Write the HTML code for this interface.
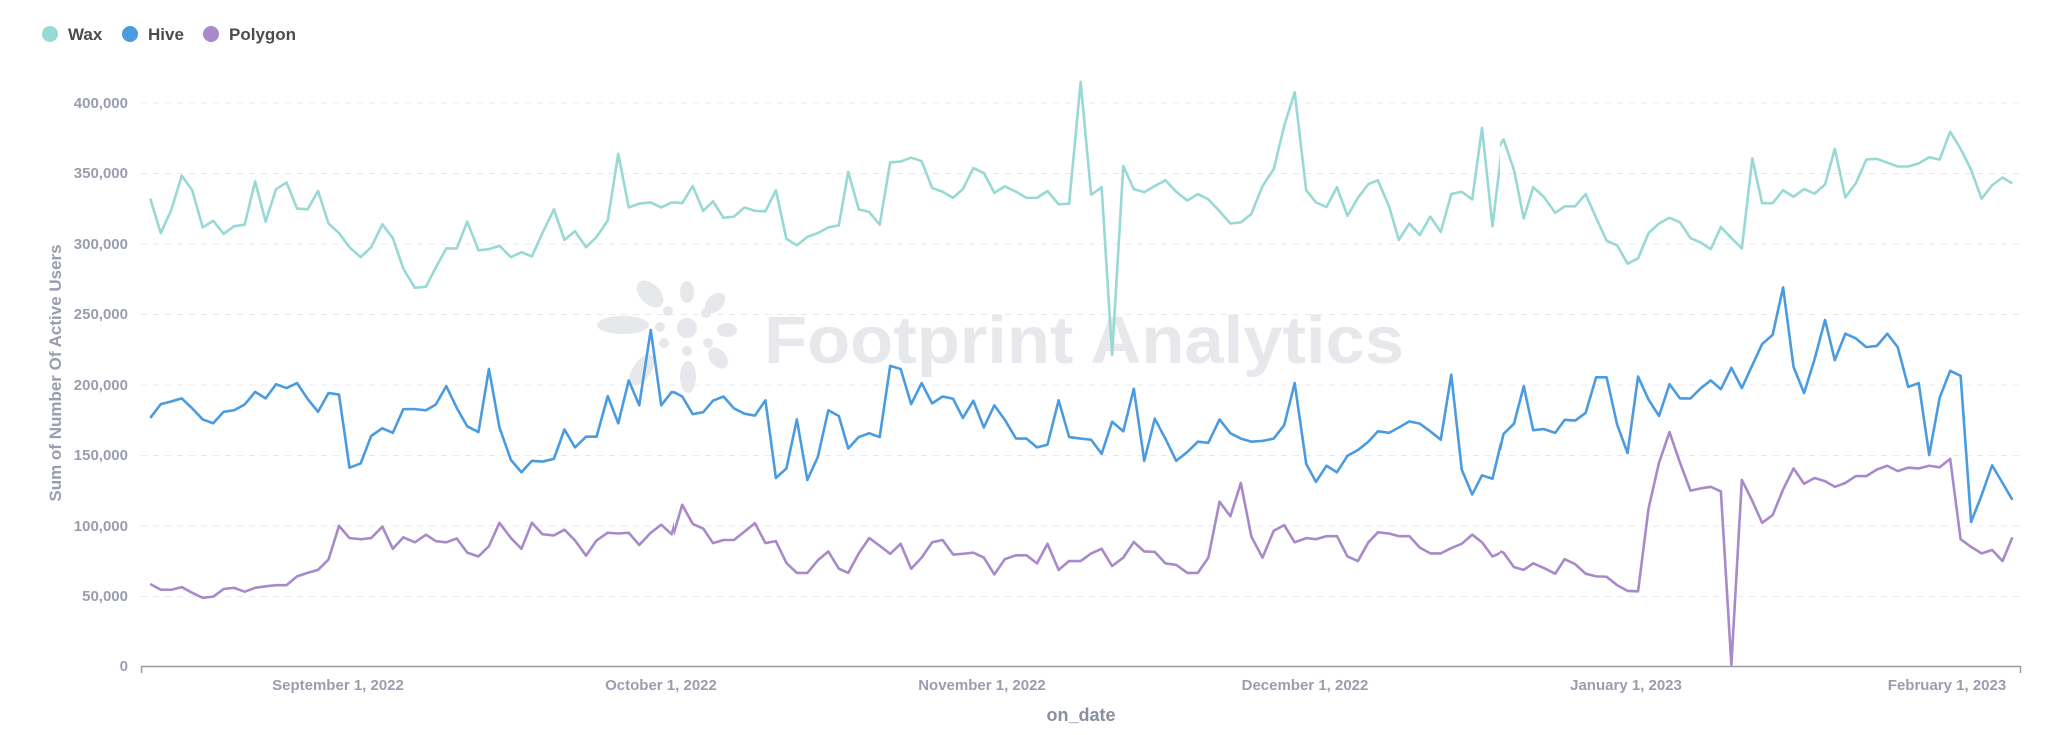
<!DOCTYPE html>
<html><head><meta charset="utf-8"><style>
html,body{margin:0;padding:0;background:#fff;}
svg{display:block;font-family:"Liberation Sans",sans-serif;}
</style></head><body>
<svg width="2048" height="735" viewBox="0 0 2048 735" xmlns="http://www.w3.org/2000/svg">
<defs>
<clipPath id="c5"><rect x="0" y="0" width="674" height="735"/></clipPath>
<clipPath id="c6"><rect x="674" y="0" width="486" height="735"/></clipPath>
<clipPath id="c7"><rect x="1160" y="0" width="340" height="735"/></clipPath>
<clipPath id="c4"><rect x="1500" y="0" width="548" height="735"/></clipPath>
</defs>
<!-- legend -->
<circle cx="50" cy="34" r="8" fill="#98d9d5"/>
<text x="68" y="40" font-size="17" font-weight="bold" fill="#4c4c4c">Wax</text>
<circle cx="130" cy="34" r="8" fill="#4a9be0"/>
<text x="148" y="40" font-size="17" font-weight="bold" fill="#4c4c4c">Hive</text>
<circle cx="211" cy="34" r="8" fill="#a889c9"/>
<text x="229" y="40" font-size="17" font-weight="bold" fill="#4c4c4c">Polygon</text>
<!-- watermark -->
<g fill="#e7e8eb">
<circle cx="687" cy="328" r="10"/>
<ellipse cx="687" cy="292" rx="7" ry="11"/>
<ellipse cx="623" cy="325" rx="26" ry="9"/>
<ellipse cx="650" cy="294" rx="10" ry="16" transform="rotate(-45 650 294)"/>
<ellipse cx="715" cy="303" rx="8" ry="12" transform="rotate(45 715 303)"/>
<ellipse cx="727" cy="330" rx="10" ry="7"/>
<ellipse cx="718" cy="358" rx="8" ry="12" transform="rotate(-40 718 358)"/>
<ellipse cx="688" cy="377" rx="8" ry="16"/>
<ellipse cx="642" cy="370" rx="9" ry="18" transform="rotate(35 642 370)"/>
<circle cx="668" cy="311" r="5"/><circle cx="706" cy="313" r="5"/>
<circle cx="664" cy="343" r="5"/><circle cx="708" cy="343" r="5"/>
<circle cx="687" cy="351" r="5"/><circle cx="660" cy="327" r="5"/>
</g>
<text x="764" y="363" font-size="67" font-weight="bold" fill="#e7e8eb" textLength="640" lengthAdjust="spacingAndGlyphs">Footprint Analytics</text>
<!-- grid -->
<g stroke="#e8e9ee" stroke-width="1" stroke-dasharray="6,6">
<line x1="141" x2="2021" y1="103" y2="103"/><line x1="141" x2="2021" y1="173.5" y2="173.5"/>
<line x1="141" x2="2021" y1="244" y2="244"/><line x1="141" x2="2021" y1="314.5" y2="314.5"/>
<line x1="141" x2="2021" y1="385" y2="385"/><line x1="141" x2="2021" y1="455.5" y2="455.5"/>
<line x1="141" x2="2021" y1="526" y2="526"/><line x1="141" x2="2021" y1="596.5" y2="596.5"/>
</g>
<line x1="141" x2="2021" y1="666.5" y2="666.5" stroke="#9a9ca8" stroke-width="1.5"/>
<line x1="141.5" x2="141.5" y1="666" y2="673" stroke="#9a9ca8" stroke-width="1.5"/>
<line x1="2020.5" x2="2020.5" y1="666" y2="673" stroke="#9a9ca8" stroke-width="1.5"/>
<!-- y labels -->
<g font-size="15" font-weight="bold" fill="#9a9db0" text-anchor="end">
<text x="128" y="108">400,000</text><text x="128" y="178">350,000</text>
<text x="128" y="249">300,000</text><text x="128" y="319">250,000</text>
<text x="128" y="390">200,000</text><text x="128" y="460">150,000</text>
<text x="128" y="531">100,000</text><text x="128" y="601">50,000</text>
<text x="128" y="671">0</text>
</g>
<text transform="translate(61 373) rotate(-90)" text-anchor="middle" font-size="17" font-weight="bold" fill="#9a9db0">Sum of Number Of Active Users</text>
<g font-size="15" font-weight="bold" fill="#9a9db0" text-anchor="middle">
<text x="338" y="690">September 1, 2022</text>
<text x="661" y="690">October 1, 2022</text>
<text x="982" y="690">November 1, 2022</text>
<text x="1305" y="690">December 1, 2022</text>
<text x="1626" y="690">January 1, 2023</text>
<text x="1947" y="690">February 1, 2023</text>
</g>
<text x="1081" y="721" text-anchor="middle" font-size="18" font-weight="bold" fill="#8a8fa0">on_date</text>
<!-- series -->
<g fill="none" stroke-width="2.6" stroke-linejoin="round">
<g clip-path="url(#c5)"><g transform="matrix(0.3495,0,0,0.3827,130,80)">
<polyline vector-effect="non-scaling-stroke" stroke="#98d9d5" points="58,310 88,400 118,340 148,250 178,288 208,385 238,368 268,402 298,382 328,378 358,265 388,370 418,285 448,268 478,336 508,338 538,290 568,375 598,400 628,437 660,463 690,437 722,377 752,413 782,493 815,543 847,540 875,490 905,440 935,440 965,370 997,445 1027,442 1057,433 1090,463 1120,450 1150,461 1180,400 1213,338 1243,418 1273,395 1305,437 1335,410 1367,367 1397,193 1427,333 1457,323 1490,320 1520,333 1550,320 1568,322 1600,320"/>
<polyline vector-effect="non-scaling-stroke" stroke="#4a9be0" points="58,883 88,847 118,840 148,832 178,858 208,887 238,897 268,867 298,863 328,848 358,815 388,832 418,795 448,805 478,792 508,833 538,867 568,818 598,822 628,1013 660,1002 690,930 722,910 752,922 782,860 815,860 847,863 875,848 905,800 935,857 965,905 997,920 1027,755 1057,908 1090,993 1120,1025 1150,995 1180,997 1213,990 1243,913 1273,960 1305,932 1335,932 1367,826 1397,897 1427,785 1457,850 1490,653 1520,850 1550,815 1568,820 1600,827"/>
<polyline vector-effect="non-scaling-stroke" stroke="#a889c9" points="58,1317 88,1332 118,1332 148,1325 178,1340 208,1353 238,1350 268,1330 298,1327 328,1337 358,1327 388,1323 418,1320 448,1320 478,1297 508,1288 538,1280 568,1253 598,1165 628,1197 660,1200 690,1197 722,1167 752,1225 782,1195 815,1208 847,1188 875,1205 905,1208 935,1198 965,1235 997,1245 1027,1218 1057,1157 1090,1197 1120,1225 1150,1157 1180,1187 1213,1190 1243,1175 1273,1203 1305,1243 1335,1203 1367,1183 1397,1185 1427,1183 1457,1215 1490,1183 1520,1162 1550,1187 1568,1130 1600,1110"/>
</g></g>
<g clip-path="url(#c6)"><g transform="matrix(0.3495,0,0,0.3827,670,80)">
<polyline vector-effect="non-scaling-stroke" stroke="#98d9d5" points="0,318 35,322 65,277 95,342 123,317 153,360 183,357 213,333 243,342 273,343 303,288 333,415 363,432 393,410 423,400 453,385 483,380 510,240 540,338 570,345 600,378 630,215 660,213 690,203 720,212 750,282 780,292 810,308 838,285 868,230 898,243 928,295 958,278 990,292 1020,308 1050,308 1080,290 1112,325 1142,323 1175,5 1205,300 1235,280 1265,718 1297,225 1327,285 1357,293 1387,277 1418,262 1450,293 1480,315 1510,300 1540,312 1568,340"/>
<polyline vector-effect="non-scaling-stroke" stroke="#4a9be0" points="0,818 10,815 35,827 65,873 95,868 123,838 153,827 183,858 213,872 243,877 273,837 303,1040 333,1015 363,887 393,1045 423,985 453,863 483,878 510,963 540,933 570,923 600,933 630,747 660,755 690,847 720,792 750,845 780,827 810,833 838,883 868,838 898,908 928,850 958,888 990,937 1020,937 1050,960 1080,953 1112,837 1142,933 1175,937 1205,940 1235,977 1265,893 1297,918 1327,807 1357,995 1387,885 1418,937 1450,995 1480,975 1510,947 1540,948 1568,895"/>
<polyline vector-effect="non-scaling-stroke" stroke="#a889c9" points="0,1160 10,1187 35,1110 65,1160 95,1172 123,1210 153,1202 183,1202 213,1180 243,1158 273,1210 303,1205 333,1262 363,1288 393,1288 423,1255 453,1232 483,1277 510,1288 540,1237 570,1197 600,1217 630,1238 660,1212 690,1277 720,1248 750,1208 780,1202 810,1240 838,1238 868,1235 898,1248 928,1292 958,1252 990,1242 1020,1242 1050,1263 1080,1212 1112,1280 1142,1257 1175,1257 1205,1237 1235,1225 1265,1270 1297,1248 1327,1207 1357,1232 1387,1233 1418,1263 1450,1267 1480,1288 1510,1288 1540,1248 1568,1100"/>
</g></g>
<g clip-path="url(#c7)"><g transform="matrix(0.3495,0,0,0.3827,1100,80)">
<polyline vector-effect="non-scaling-stroke" stroke="#98d9d5" points="5,280 35,718 65,225 95,285 127,293 157,278 187,262 218,292 250,315 280,298 310,312 342,343 373,375 403,372 433,350 465,277 497,233 527,120 557,32 590,288 618,320 648,332 678,280 708,355 738,308 768,272 795,262 827,330 855,418 885,375 915,405 945,357 975,397 1005,298 1035,292 1065,312 1093,125 1123,382 1153,155 1183,230 1213,363 1243,282 1270,305 1300,345 1330,330 1360,330 1390,298 1420,362 1450,423 1480,433 1510,480 1540,467 1568,400"/>
<polyline vector-effect="non-scaling-stroke" stroke="#4a9be0" points="5,975 35,893 65,917 95,808 127,995 157,887 187,937 218,995 250,972 280,945 310,948 342,887 373,923 403,937 433,945 465,943 497,937 527,902 557,792 590,1003 618,1050 648,1008 678,1025 708,982 738,967 768,945 795,918 827,922 855,908 885,892 915,898 945,918 975,940 1005,770 1035,1018 1065,1083 1093,1033 1123,1042 1153,927 1183,898 1213,800 1243,915 1270,912 1300,922 1330,888 1360,890 1390,872 1420,777 1450,777 1480,903 1510,975 1540,773 1568,840"/>
<polyline vector-effect="non-scaling-stroke" stroke="#a889c9" points="5,1227 35,1270 65,1250 95,1208 127,1232 157,1233 187,1263 218,1267 250,1288 280,1288 310,1248 342,1102 373,1140 403,1053 433,1193 465,1248 497,1178 527,1163 557,1208 590,1197 618,1200 648,1192 678,1192 708,1245 738,1257 768,1208 795,1182 827,1185 855,1192 885,1192 915,1222 945,1237 975,1237 1005,1223 1035,1212 1065,1188 1093,1208 1123,1245 1153,1233 1183,1273 1213,1280 1243,1265 1270,1277 1300,1290 1330,1253 1360,1270 1390,1292 1420,1298 1450,1298 1480,1322 1510,1335 1540,1335 1568,1115"/>
</g></g>
<g clip-path="url(#c4)"><g transform="matrix(0.3495,0,0,0.3827,1500,80)">
<polyline vector-effect="non-scaling-stroke" stroke="#98d9d5" points="-20,200 10,155 40,235 68,362 95,280 125,305 158,347 185,330 215,330 245,298 275,360 305,420 335,432 365,480 395,466 425,400 455,375 485,360 515,372 545,413 575,425 603,442 632,384 662,413 692,440 722,205 750,322 780,322 810,288 840,305 870,285 900,297 930,273 958,180 988,307 1018,270 1048,208 1078,206 1108,216 1138,226 1168,226 1198,218 1228,202 1258,208 1288,135 1318,180 1348,235 1378,310 1408,275 1438,255 1466,270"/>
<polyline vector-effect="non-scaling-stroke" stroke="#4a9be0" points="-20,990 0,965 10,925 40,898 68,800 95,915 125,912 158,922 185,888 215,890 245,870 275,777 305,777 335,900 365,975 395,775 425,835 455,878 485,795 515,832 545,832 575,805 603,785 632,808 662,752 692,805 722,745 750,690 780,666 810,542 840,750 870,818 900,730 930,627 958,732 988,663 1018,675 1048,698 1078,695 1108,663 1138,698 1168,802 1198,792 1228,980 1258,830 1288,760 1318,773 1348,1155 1378,1085 1408,1007 1438,1053 1466,1097"/>
<polyline vector-effect="non-scaling-stroke" stroke="#a889c9" points="-20,1240 0,1232 10,1235 40,1273 68,1280 95,1263 125,1275 158,1290 185,1252 215,1265 245,1290 275,1297 305,1298 335,1320 365,1335 395,1336 425,1120 455,1000 485,920 515,1000 545,1073 575,1067 603,1063 632,1075 662,1528 692,1045 722,1100 750,1157 780,1137 810,1070 840,1015 870,1055 900,1040 930,1048 958,1063 988,1053 1018,1035 1048,1035 1078,1018 1108,1008 1138,1022 1168,1013 1198,1015 1228,1008 1258,1012 1288,990 1318,1200 1348,1220 1378,1237 1408,1228 1438,1257 1466,1195"/>
</g></g>
</g>
</svg>
</body></html>
